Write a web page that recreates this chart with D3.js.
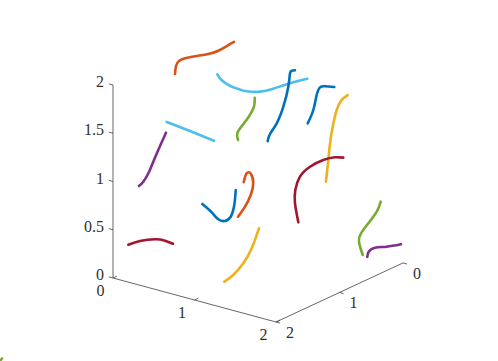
<!DOCTYPE html>
<html>
<head>
<meta charset="utf-8">
<title>3D curves</title>
<script src="https://cdn.jsdelivr.net/npm/d3@7"></script>
<style>
html, body { margin: 0; padding: 0; background: #fff; }
svg { display: block; }
.axis-line { fill: none; stroke: #404040; stroke-width: 0.8; }
.curve { fill: none; stroke-width: 2.6; stroke-linecap: round; stroke-linejoin: round; }
text { font-family: "Liberation Serif", "Times New Roman", serif; font-size: 16px; fill: #303030; }
</style>
</head>
<body>
<script>
var width = 498, height = 361;

// tick labels
var xTicks = [0, 1, 2];
var yTicks = [0, 1, 2];
var zTicks = [0, 0.5, 1, 1.5, 2];

// matlab default line colours
var colors = {
  blue: "#0072BD", orange: "#D95319", yellow: "#EDB120", purple: "#7E2F8E",
  green: "#77AC30", cyan: "#4DBEEE", red: "#A2142F"
};

// curves, flattened to the view plane, in axis units
var orangeTop = [[.761,2.114],[.773,2.197],[.813,2.252],[.896,2.280],[1.027,2.301],[1.169,2.321],[1.292,2.355],[1.395,2.404],[1.485,2.446]];
var cyanLine = [[.659,1.617],[.945,1.523],[1.239,1.423]];
var cyanArc = [[1.280,2.111],[1.325,2.057],[1.399,2.010],[1.476,1.976],[1.558,1.953],[1.640,1.935],[1.804,1.931],[1.967,1.962],[2.172,2.018],[2.384,2.065]];
var greenTop = [[1.739,1.868],[1.730,1.775],[1.672,1.679],[1.591,1.586],[1.525,1.500],[1.534,1.430]];
var blueTall = [[1.898,1.417],[1.926,1.492],[2.009,1.603],[2.090,1.775],[2.151,1.982],[2.172,2.121],[2.196,2.148],[2.233,2.152]];
var blueShort = [[2.389,1.603],[2.458,1.741],[2.499,1.896],[2.540,1.976],[2.601,1.987],[2.715,1.979]];
var yellowTop = [[2.880,1.896],[2.806,1.845],[2.745,1.741],[2.696,1.568],[2.663,1.396],[2.642,1.223],[2.613,.998]];
var redRight = [[2.826,1.247],[2.724,1.251],[2.580,1.223],[2.417,1.153],[2.294,1.050],[2.237,.912],[2.233,.774],[2.274,.577]];
var greenRight = [[3.285,.791],[3.236,.687],[3.133,.567],[3.043,.463],[3.018,.376],[3.064,.238]];
var purpleRight = [[3.120,.218],[3.137,.273],[3.215,.314],[3.358,.324],[3.534,.349]];
var purpleLeft = [[.319,.953],[.374,1.000],[.442,1.098],[.503,1.223],[.577,1.368],[.650,1.506]];
var redLeft = [[.188,.345],[.331,.383],[.515,.401],[.638,.387],[.736,.355]];
var blueMid = [[1.096,.767],[1.211,.681],[1.292,.608],[1.374,.591],[1.444,.635],[1.488,.756],[1.506,.912]];
var orangeMid = [[1.534,.635],[1.620,.739],[1.690,.860],[1.721,.981],[1.693,1.078],[1.640,1.085],[1.604,.992]];
var yellowLow = [[1.366,-.038],[1.476,.031],[1.599,.152],[1.702,.308],[1.791,.515]];
var cornerSpeck = [[-1.387,-.860],[-1.362,-.834]];

var curves = [
  {pts: orangeTop, color: colors.orange},
  {pts: cyanLine, color: colors.cyan},
  {pts: cyanArc, color: colors.cyan},
  {pts: greenTop, color: colors.green},
  {pts: blueTall, color: colors.blue},
  {pts: blueShort, color: colors.blue},
  {pts: yellowTop, color: colors.yellow},
  {pts: redRight, color: colors.red},
  {pts: greenRight, color: colors.green},
  {pts: purpleRight, color: colors.purple},
  {pts: purpleLeft, color: colors.purple},
  {pts: redLeft, color: colors.red},
  {pts: blueMid, color: colors.blue},
  {pts: orangeMid, color: colors.orange},
  {pts: yellowLow, color: colors.yellow},
  {pts: cornerSpeck, color: colors.green}
];

var hScale = d3.scaleLinear().domain([0, 2]).range([113, 276]);
var vScale = d3.scaleLinear().domain([0, 2]).range([278, 85]);

// oblique projection of a data point on to the view plane
function project(x, y, z) {
  return [x + (2 - y) * 0.779, z - 0.228 * x + 0.306 * (2 - y)];
}

var line = d3.line()
  .x(function(d) { return hScale(d[0]); })
  .y(function(d) { return vScale(d[1]); });

var smooth = d3.line()
  .curve(d3.curveNatural)
  .x(function(d) { return hScale(d[0]); })
  .y(function(d) { return vScale(d[1]); });

var svg = d3.select("body").append("svg")
  .attr("width", width)
  .attr("height", height);

// box edges
var edges = [
  [project(0, 2, 0), project(0, 2, 2)],
  [project(0, 2, 0), project(2, 2, 0)],
  [project(2, 2, 0), project(2, 0, 0)]
];
svg.selectAll(".edge").data(edges).enter().append("path")
  .attr("class", "axis-line edge")
  .attr("d", line);

// tick marks
var tickSegs = [];
zTicks.forEach(function(t) { tickSegs.push([project(0, 2, t), project(-0.05, 2, t)]); });
xTicks.forEach(function(t) { tickSegs.push([project(t, 2, 0), project(t, 1.94, 0)]); });
yTicks.forEach(function(t) { tickSegs.push([project(2, t, 0), project(2.05, t, 0)]); });
svg.selectAll(".tick").data(tickSegs).enter().append("path")
  .attr("class", "axis-line tick")
  .attr("d", line);

// tick labels
function pos(p, dx, dy) { return [hScale(p[0]) + dx, vScale(p[1]) + dy]; }

svg.selectAll(".zlabel").data(zTicks).enter().append("text")
  .attr("class", "zlabel")
  .attr("text-anchor", "end")
  .attr("x", function(d) { return pos(project(0, 2, d), -9, 2)[0]; })
  .attr("y", function(d) { return pos(project(0, 2, d), -9, 2)[1]; })
  .text(function(d) { return d; });

svg.selectAll(".xlabel").data(xTicks).enter().append("text")
  .attr("class", "xlabel")
  .attr("text-anchor", "middle")
  .attr("x", function(d) { return pos(project(d, 2, 0), -12.5, 18)[0]; })
  .attr("y", function(d) { return pos(project(d, 2, 0), -12.5, 18)[1]; })
  .text(function(d) { return d; });

svg.selectAll(".ylabel").data(yTicks).enter().append("text")
  .attr("class", "ylabel")
  .attr("text-anchor", "middle")
  .attr("x", function(d) { return pos(project(2, d, 0), 14, 16)[0]; })
  .attr("y", function(d) { return pos(project(2, d, 0), 14, 16)[1]; })
  .text(function(d) { return d; });

// curves
svg.selectAll(".curve").data(curves).enter().append("path")
  .attr("class", "curve")
  .attr("stroke", function(d) { return d.color; })
  .attr("d", function(d) { return smooth(d.pts); });
</script>
</body>
</html>
